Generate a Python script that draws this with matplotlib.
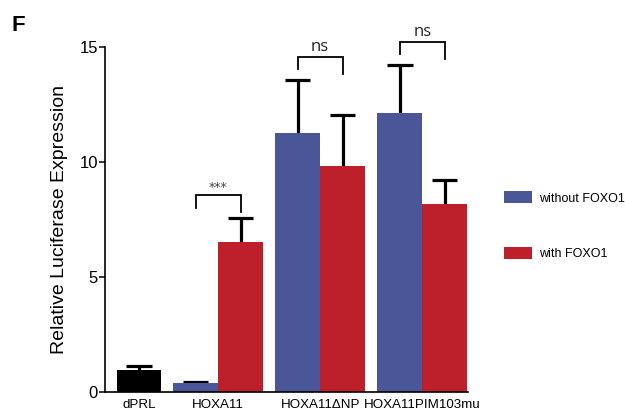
import matplotlib
matplotlib.use("Agg")
import matplotlib.pyplot as plt
from matplotlib.patches import Patch

plt.rcParams['font.family'] = ['Liberation Sans', 'DejaVu Sans']

# Data
groups = ["dPRL", "HOXA11", "HOXA11\u0394NP", "HOXA11PIM103mu"]
control_mean = [0.96]
control_sem = [0.17]
without_mean = [0.39, 11.26, 12.16]
without_sem = [0.06, 2.34, 2.09]
with_mean = [6.52, 9.84, 8.17]
with_sem = [1.05, 2.20, 1.05]
sig_labels = ["***", "ns", "ns"]
yticks = [0, 5, 10, 15]

blue = "#4A5698"
red = "#BD1F2B"

fig = plt.figure(figsize=(6.25, 4.19), dpi=100)
ax = fig.add_axes([0.168, 0.064, 0.581, 0.823])

w = 0.44
cap = 0.25
ctrl_x = [0.225]
grp_x = [1, 2, 3]
blue_x = [g - w / 2 for g in grp_x]
red_x = [g + w / 2 for g in grp_x]


def upper_err(xs, means, errs):
    tops = [m + e for m, e in zip(means, errs)]
    ax.vlines(xs, means, tops, color='black', lw=2.3, zorder=1)
    ax.hlines(tops, [x - cap / 2 for x in xs], [x + cap / 2 for x in xs],
              color='black', lw=2.3, zorder=1)


ax.bar(ctrl_x, control_mean, width=w, color='black', zorder=2)
upper_err(ctrl_x, control_mean, control_sem)
ax.bar(blue_x, without_mean, width=w, color=blue, zorder=2)
upper_err(blue_x, without_mean, without_sem)
ax.bar(red_x, with_mean, width=w, color=red, zorder=2)
upper_err(red_x, with_mean, with_sem)

# Significance brackets
for bx, rx, bm, be, rm, re_, lab in zip(blue_x, red_x, without_mean, without_sem,
                                         with_mean, with_sem, sig_labels):
    top = max(bm + be, rm + re_) + 1.0
    ax.plot([bx, bx, rx, rx], [top - 0.55, top, top, top - 0.75], color='black', lw=1.3,
            clip_on=False, solid_joinstyle='miter')
    if lab == "***":
        ax.text((bx + rx) / 2, top + 0.05, lab, ha='center', va='bottom', fontsize=9,
                color='#444444', family='DejaVu Sans')
    else:
        ax.text((bx + rx) / 2, top + 0.08, lab, ha='center', va='bottom', fontsize=12,
                color='#222222', family='Open Sans')

ax.set_xlim(-0.108, 3.45)
ax.set_ylim(0, 15)
ax.set_yticks(yticks)
ax.set_yticklabels([str(t) for t in yticks], fontsize=12)
ax.set_xticks(ctrl_x + grp_x)
ax.set_xticklabels(groups, fontsize=9.6)
ax.tick_params(axis='x', length=0, pad=5)
ax.tick_params(axis='y', length=4, width=1.1, pad=1)
for s in ['top', 'right']:
    ax.spines[s].set_visible(False)
for s in ['left', 'bottom']:
    ax.spines[s].set_linewidth(1.2)
ax.set_ylabel("Relative Luciferase Expression", fontsize=14, labelpad=8)

handles = [Patch(facecolor=blue, label="without FOXO1"),
           Patch(facecolor=red, label="with FOXO1")]
fig.legend(handles=handles, loc='upper left', bbox_to_anchor=(0.806, 0.543),
           frameon=False, fontsize=9, handlelength=2.25, handleheight=1.1,
           labelspacing=3.4, handletextpad=0.55, borderaxespad=0, borderpad=0)

fig.text(0.018, 0.926, "F", fontsize=16, fontweight='bold')

fig.savefig("out.png", dpi=100)
